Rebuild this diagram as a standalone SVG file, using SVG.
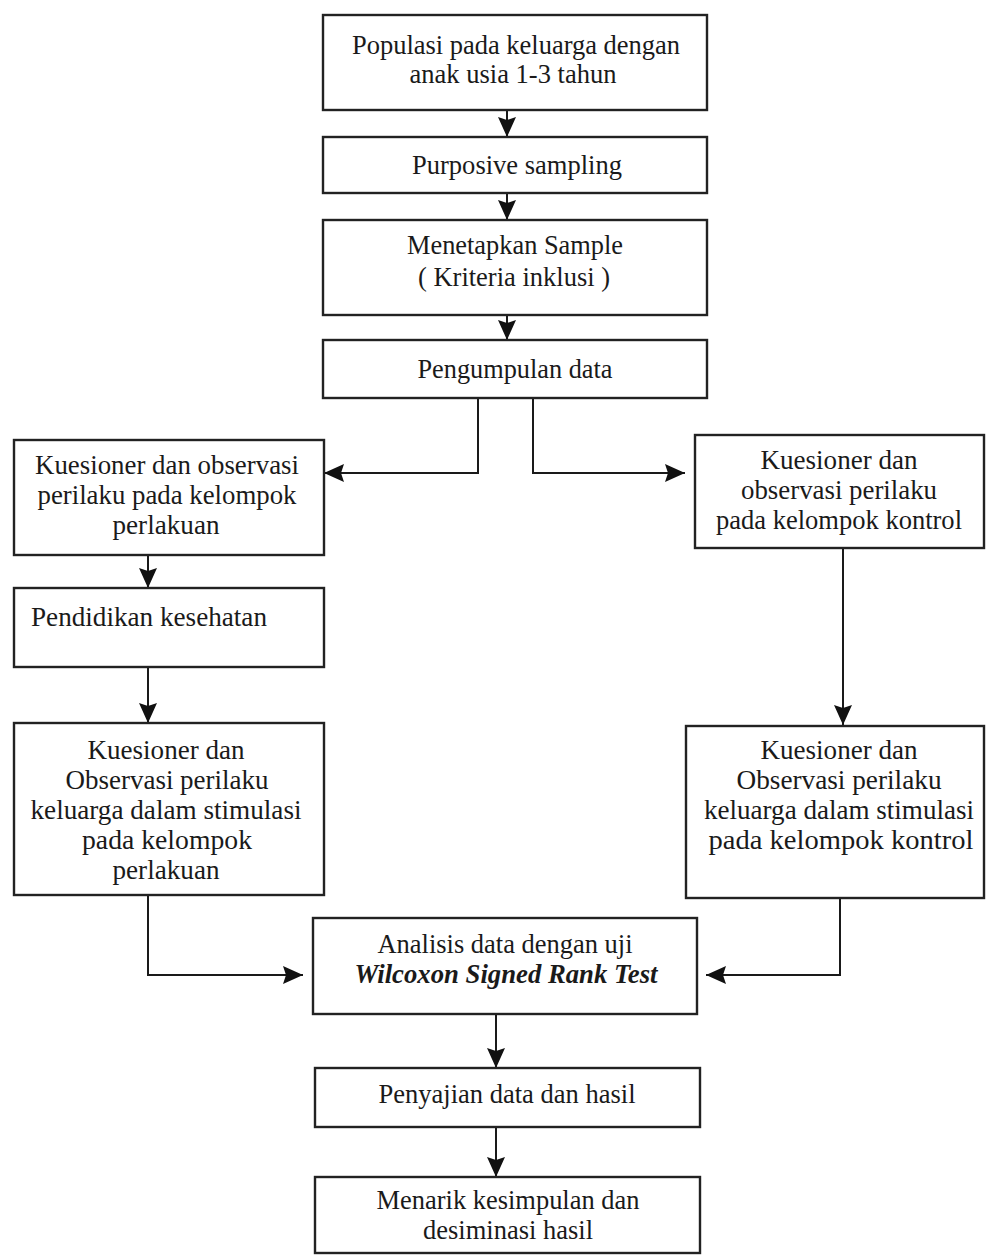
<svg xmlns="http://www.w3.org/2000/svg" width="986" height="1256" viewBox="0 0 986 1256">
<defs>
<marker id="ah" markerUnits="userSpaceOnUse" markerWidth="20" markerHeight="18" refX="20" refY="9" orient="auto">
<path d="M0,0 L20,9 L0,18 L3,9 z" fill="#111"/>
</marker>
<style>
.box{fill:#fff;stroke:#222;stroke-width:2.4}
.t{font-family:'Liberation Serif',Tinos,'Times New Roman',serif;font-size:27px;fill:#1a1a1a;text-anchor:middle}
.l{text-anchor:start}
.bi{font-weight:bold;font-style:italic}
.c{fill:none;stroke:#1a1a1a;stroke-width:2;marker-end:url(#ah)}
</style>
</defs>
<rect width="986" height="1256" fill="#fff"/>
<g id="connectors">
<path class="c" d="M507,110 V137"/>
<path class="c" d="M507,193 V220"/>
<path class="c" d="M507,315 V340"/>
<path class="c" d="M478,398 V473 H324"/>
<path class="c" d="M533,398 V473 H685"/>
<path class="c" d="M148,555 V588"/>
<path class="c" d="M148,667 V723"/>
<path class="c" d="M843,548 V725"/>
<path class="c" d="M148,895 V975 H303"/>
<path class="c" d="M840,897 V975 H706"/>
<path class="c" d="M496,1014 V1068"/>
<path class="c" d="M496,1127 V1177"/>
</g>
<g id="n1"><rect class="box" x="323" y="15" width="384" height="95"/>
<text class="t" x="516" y="54" textLength="328" lengthAdjust="spacingAndGlyphs">Populasi pada keluarga dengan</text>
<text class="t" x="513" y="83" textLength="207" lengthAdjust="spacingAndGlyphs">anak usia 1-3 tahun</text></g>
<g id="n2"><rect class="box" x="323" y="137" width="384" height="56"/>
<text class="t" x="517" y="174" textLength="210" lengthAdjust="spacingAndGlyphs">Purposive sampling</text></g>
<g id="n3"><rect class="box" x="323" y="220" width="384" height="95"/>
<text class="t" x="515" y="254" textLength="216" lengthAdjust="spacingAndGlyphs">Menetapkan Sample</text>
<text class="t" x="514" y="286" textLength="192" lengthAdjust="spacingAndGlyphs">( Kriteria inklusi )</text></g>
<g id="n4"><rect class="box" x="323" y="340" width="384" height="58"/>
<text class="t" x="515" y="378" textLength="195" lengthAdjust="spacingAndGlyphs">Pengumpulan data</text></g>
<g id="n5"><rect class="box" x="14" y="440" width="310" height="115"/>
<text class="t" x="167" y="474" textLength="264" lengthAdjust="spacingAndGlyphs">Kuesioner dan observasi</text>
<text class="t" x="167" y="504" textLength="259" lengthAdjust="spacingAndGlyphs">perilaku pada kelompok</text>
<text class="t" x="166" y="534" textLength="107" lengthAdjust="spacingAndGlyphs">perlakuan</text></g>
<g id="n6"><rect class="box" x="695" y="435" width="289" height="113"/>
<text class="t" x="839" y="469" textLength="157" lengthAdjust="spacingAndGlyphs">Kuesioner dan</text>
<text class="t" x="839" y="499" textLength="196" lengthAdjust="spacingAndGlyphs">observasi perilaku</text>
<text class="t" x="839" y="529" textLength="246" lengthAdjust="spacingAndGlyphs">pada kelompok kontrol</text></g>
<g id="n7"><rect class="box" x="14" y="588" width="310" height="79"/>
<text class="t l" x="31" y="626" textLength="236" lengthAdjust="spacingAndGlyphs">Pendidikan kesehatan</text></g>
<g id="n8"><rect class="box" x="14" y="723" width="310" height="172"/>
<text class="t" x="166" y="759" textLength="157" lengthAdjust="spacingAndGlyphs">Kuesioner dan</text>
<text class="t" x="167" y="789" textLength="203" lengthAdjust="spacingAndGlyphs">Observasi perilaku</text>
<text class="t" x="166" y="819" textLength="271" lengthAdjust="spacingAndGlyphs">keluarga dalam stimulasi</text>
<text class="t" x="167" y="849" textLength="170" lengthAdjust="spacingAndGlyphs">pada  kelompok</text>
<text class="t" x="166" y="879" textLength="107" lengthAdjust="spacingAndGlyphs">perlakuan</text></g>
<g id="n9"><rect class="box" x="686" y="726" width="298" height="172"/>
<text class="t" x="839" y="759" textLength="157" lengthAdjust="spacingAndGlyphs">Kuesioner dan</text>
<text class="t" x="839" y="789" textLength="205" lengthAdjust="spacingAndGlyphs">Observasi perilaku</text>
<text class="t" x="839" y="819" textLength="270" lengthAdjust="spacingAndGlyphs">keluarga dalam stimulasi</text>
<text class="t" x="841" y="849" textLength="265" lengthAdjust="spacingAndGlyphs">pada  kelompok  kontrol</text></g>
<g id="n10"><rect class="box" x="313" y="918" width="384" height="96"/>
<text class="t" x="505" y="953" textLength="255" lengthAdjust="spacingAndGlyphs">Analisis data dengan uji</text>
<text class="t bi" x="506" y="983" textLength="303" lengthAdjust="spacingAndGlyphs">Wilcoxon Signed Rank Test</text></g>
<g id="n11"><rect class="box" x="315" y="1068" width="385" height="59"/>
<text class="t" x="507" y="1103" textLength="257" lengthAdjust="spacingAndGlyphs">Penyajian data dan hasil</text></g>
<g id="n12"><rect class="box" x="315" y="1177" width="385" height="76"/>
<text class="t" x="508" y="1209" textLength="263" lengthAdjust="spacingAndGlyphs">Menarik kesimpulan dan</text>
<text class="t" x="508" y="1239" textLength="170" lengthAdjust="spacingAndGlyphs">desiminasi hasil</text></g>
</svg>
